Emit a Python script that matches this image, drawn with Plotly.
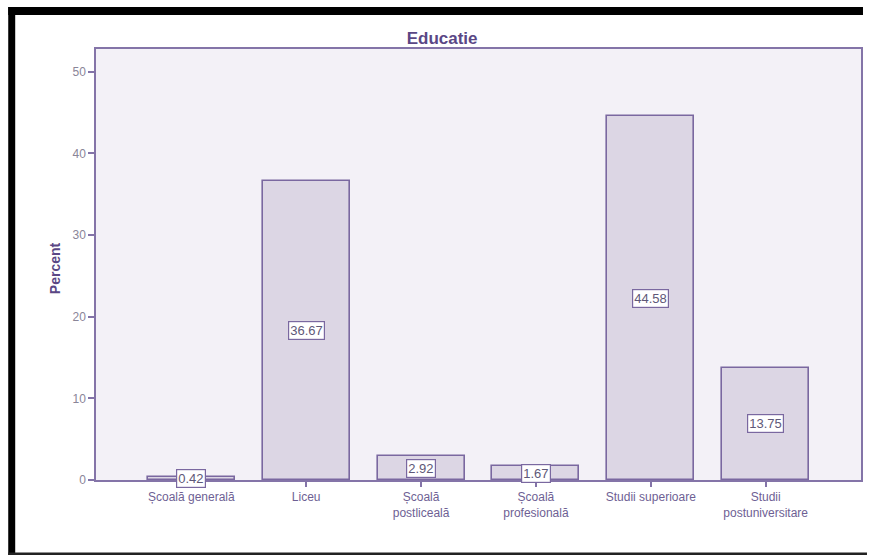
import plotly.graph_objects as go

categories = ["Școală generală", "Liceu", "Școală postliceală", "Școală profesională",
              "Studii superioare", "Studii postuniversitare"]
tick_labels = ["Școală generală", "Liceu", "Școală<br>postliceală", "Școală<br>profesională",
               "Studii superioare", "Studii<br>postuniversitare"]
percents = [0.42, 36.67, 2.92, 1.67, 44.58, 13.75]
value_labels = ["0.42", "36.67", "2.92", "1.67", "44.58", "13.75"]

W, H = 869, 556
L, R, T, B = 96, 6, 49, 76
PW, PH = W - L - R, H - T - B


def px(x):
    return (x - L) / PW


def py(y):
    return (H - B - y) / PH


purple_line = "#8474a8"
fig = go.Figure()
fig.add_trace(go.Bar(
    x=categories, y=percents, width=0.757,
    marker=dict(color="#dcd6e4", line=dict(color="#7a68a0", width=1.6)),
    hoverinfo="skip",
))

for c, v, t in zip(categories, percents, value_labels):
    fig.add_annotation(x=c, y=v / 2, text=t, showarrow=False,
                       font=dict(family="Liberation Sans, Arial", size=13, color="#5e5878"),
                       bgcolor="white", bordercolor="#7a68a0", borderwidth=1.2, borderpad=1)

fig.add_annotation(xref="paper", yref="paper", x=px(45), y=py(268), text="<b>Percent</b>",
                   textangle=-90, showarrow=False,
                   font=dict(family="Liberation Sans, Arial", size=14, color="#5a4785"))

# black frame of the picture
shapes = [
    dict(type="rect", xref="paper", yref="paper", x0=px(8), x1=px(865), y0=py(15), y1=py(7),
         fillcolor="black", line=dict(width=0)),
    dict(type="rect", xref="paper", yref="paper", x0=px(8), x1=px(15), y0=py(555), y1=py(7),
         fillcolor="black", line=dict(width=0)),
    dict(type="rect", xref="paper", yref="paper", x0=px(8), x1=px(869), y0=py(555), y1=py(552.5),
         fillcolor="#222222", line=dict(width=0)),
]

fig.update_layout(
    width=W, height=H,
    margin=dict(l=L, r=R, t=T, b=B, pad=0),
    paper_bgcolor="white", plot_bgcolor="#f3f1f7",
    showlegend=False,
    shapes=shapes,
    title=dict(text="<b>Educatie</b>", x=px(443), xref="paper", xanchor="center",
               y=1 - 38 / H, yref="container", yanchor="middle",
               font=dict(family="Liberation Sans, Arial", size=17, color="#5a4785")),
    bargap=0,
    xaxis=dict(type="category", range=[-0.83, 5.83], tickvals=categories, ticktext=tick_labels,
               showline=True, linecolor=purple_line, linewidth=1.5, mirror=True,
               ticks="outside", ticklen=5, tickcolor=purple_line, tickwidth=1.5,
               showgrid=False, zeroline=False,
               tickfont=dict(family="Liberation Sans, Arial", size=12, color="#6e5f94")),
    yaxis=dict(range=[0, 52.8], tickvals=[0, 10, 20, 30, 40, 50],
               showline=True, linecolor=purple_line, linewidth=1.5, mirror=True,
               ticks="outside", ticklen=6, tickcolor=purple_line, tickwidth=1.5,
               showgrid=False, zeroline=False,
               tickfont=dict(family="Liberation Sans, Arial", size=12, color="#8a8598")),
)

fig.write_html("out.html")
